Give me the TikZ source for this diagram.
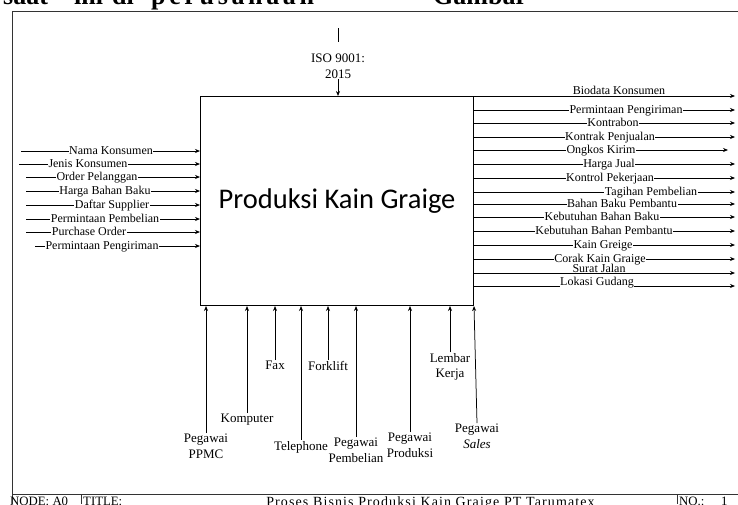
\documentclass[tikz,border=0pt]{standalone}
\usepackage{fontspec}
\setmainfont{Liberation Serif}
\newfontfamily\carlito{Carlito}
\usetikzlibrary{arrows.meta}
\begin{document}
\begin{tikzpicture}[x=1pt,y=-1pt,
  ln/.style={line width=0.75pt, black},
  arr/.style={ln, -{Stealth[length=5pt,width=4pt]}},
  frame/.style={line width=1pt, black!80},
  lab/.style={font=\fontsize{12}{14}\selectfont, fill=white, inner sep=0.5pt, anchor=base},
  ulab/.style={font=\fontsize{12}{14}\selectfont, inner sep=0.5pt, anchor=base},
  mlab/.style={font=\fontsize{13}{15.5}\selectfont, align=center, inner sep=1pt, anchor=north},
  foot/.style={font=\fontsize{12.8}{14}\selectfont, inner sep=0pt, anchor=base west},
  toptext/.style={font=\fontsize{26}{30}\selectfont\bfseries, inner sep=0pt, anchor=base west}
]
\useasboundingbox (0,0) rectangle (738,504);
\clip (0,0) rectangle (738,504);
% cropped text above the frame
\node[toptext] (t1) at (3,4.5) {saat};
\node[toptext] (t2) at (74,4.5) {ini};
\node[toptext] (t3) at (112,4.5) {di};
\node[toptext] (t4) at (151,4.5) {\addfontfeature{LetterSpace=14}perusahaan};
\node[toptext] (t5) at (433,4.5) {Gambar};
% frame
\draw[frame] (12,504) -- (12,11) -- (738,11);
\draw[frame] (12,494) -- (738,494);
\draw[frame] (81,494) -- (81,504);
\draw[frame] (677,494) -- (677,504);
\node[foot] (node) at (10,505.5) {NODE: A0};
\node[foot] (title) at (83,505.5) {TITLE:};
\node[foot, anchor=base, font=\fontsize{14}{16}\selectfont] (ttl) at (430.5,506.5) {\addfontfeature{LetterSpace=8}Proses Bisnis Produksi Kain Graige PT Tarumatex};
\node[foot] (no) at (679,505.5) {NO.:};
\node[foot] (nonum) at (721,505.5) {1};
% main activity box
\node[draw, line width=1pt, minimum width=273pt, minimum height=209pt, inner sep=0pt,
      anchor=north west, font=\carlito\fontsize{28.5}{32}\selectfont] (box) at (200,96) {Produksi Kain Graige};
% control
\node[mlab, anchor=center] (iso) at (338,66) {ISO 9001:\\2015};
\coordinate (isotop) at (338,28);
\draw[ln] (isotop) -- ([yshift=11pt]iso.north);
\draw[arr] (iso.south) -- (iso.south |- box.north);
% inputs
\foreach \n/\xs/\y/\cx/\t in {
  1/21/151/111/Nama Konsumen,
  2/19/164/88/Jenis Konsumen,
  3/26/177/97/Order Pelanggan,
  4/26/191/105/Harga Bahan Baku,
  5/26/205/112/Daftar Supplier,
  6/26/219/105/Permintaan Pembelian,
  7/26/232/89/Purchase Order,
  8/35/246/102/Permintaan Pengiriman}{
  \coordinate (in\n) at (\xs,\y);
  \draw[arr] (in\n) -- (in\n -| box.west);
  \node[lab] (inl\n) at (\cx,\y+3) {\t};
}
% outputs
\coordinate (out0) at (735,96);
\draw[arr] (out0 -| box.east) -- (out0);
\node[ulab] (outl0) at (619,94) {Biodata Konsumen};
\foreach \n/\xe/\y/\cx/\t in {
  1/735/110/626/Permintaan Pengiriman,
  2/735/123/613/Kontrabon,
  3/735/137/610/Kontrak Penjualan,
  4/728/150/601/Ongkos Kirim,
  5/735/164/609/Harga Jual,
  6/735/178/610/Kontrol Pekerjaan,
  7/735/192/651/Tagihan Pembelian,
  8/735/204/622/Bahan Baku Pembantu,
  9/735/217/602/Kebutuhan Bahan Baku,
  10/735/231/604/Kebutuhan Bahan Pembantu,
  11/735/245/603/Kain Greige,
  12/735/259/600/Corak Kain Graige}{
  \coordinate (out\n) at (\xe,\y);
  \draw[arr] (out\n -| box.east) -- (out\n);
  \node[lab] (outl\n) at (\cx,\y+3) {\t};
}
\coordinate (out13) at (735,273);
\draw[arr] (out13 -| box.east) -- (out13);
\node[ulab] (outl13) at (599,272.5) {Surat Jalan};
\coordinate (out14) at (735,286);
\draw[arr] (out14 -| box.east) -- (out14);
\node[lab] (outl14) at (597,285) {Lokasi Gudang};
% mechanisms
\node[mlab] (m1) at (206,433) {Pegawai\\PPMC};
\node[mlab] (m2) at (247,413) {Komputer};
\node[mlab] (m3) at (275,360) {Fax};
\node[mlab] (m4) at (301,440) {Telephone};
\node[mlab] (m5) at (328,360) {Forklift};
\node[mlab] (m6) at (356,437) {Pegawai\\Pembelian};
\node[mlab] (m7) at (410,432) {Pegawai\\Produksi};
\node[mlab] (m8) at (450,352) {Lembar\\Kerja};
\node[mlab] (m9) at (477,423) {Pegawai\\\textit{Sales}};
\foreach \m in {m1,m2,m3,m4,m5,m6,m7,m8}{
  \draw[arr] (\m.north) -- (\m.north |- box.south);
}
\draw[arr] (m9.north) -- ([xshift=-3pt]m9.north |- box.south);
\end{tikzpicture}
\end{document}
